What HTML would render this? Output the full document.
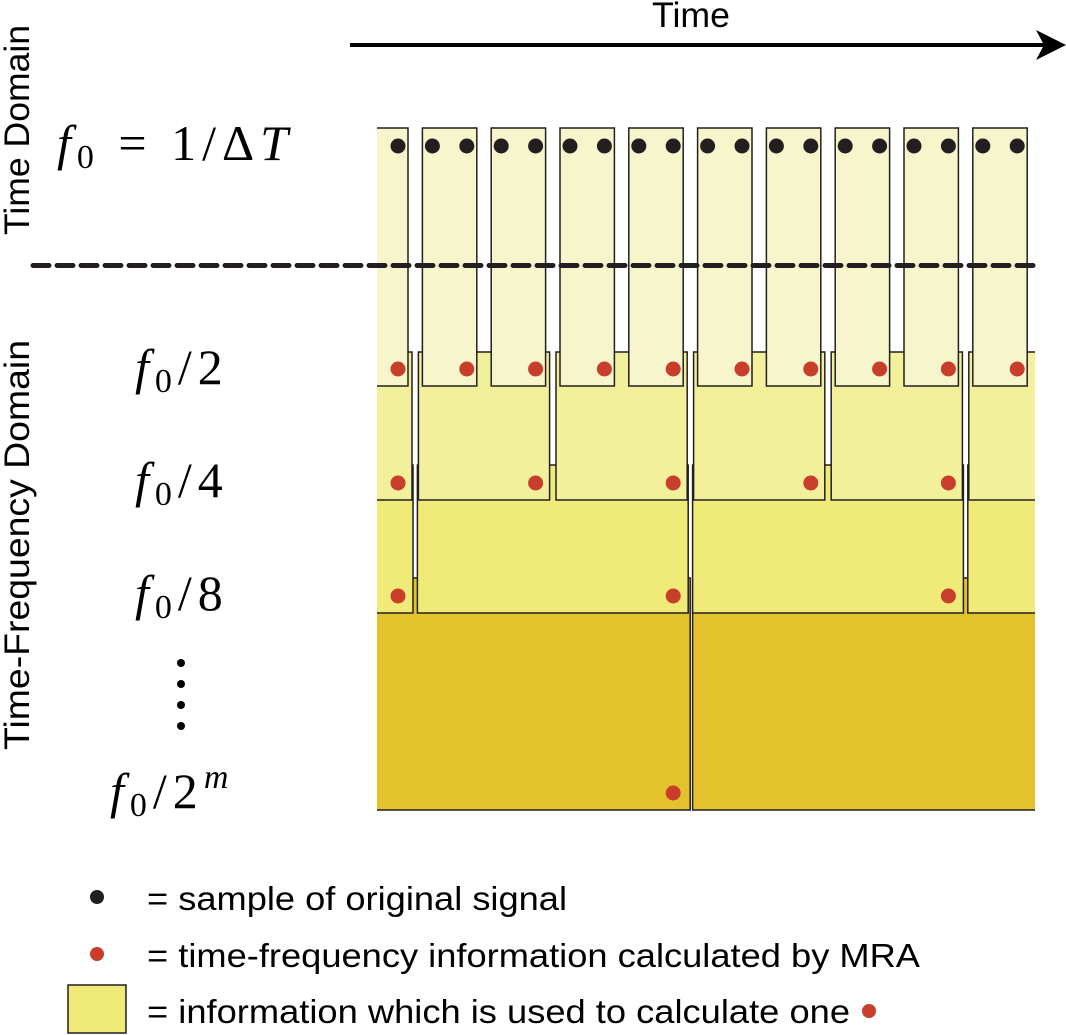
<!DOCTYPE html>
<html><head><meta charset="utf-8"><style>
html,body{margin:0;padding:0;background:#fff;}
svg{display:block;}
.lbl{font-family:"Liberation Sans",sans-serif;fill:#000;}
.math{font-family:"Liberation Serif",serif;fill:#000;letter-spacing:6px;}
</style></head><body>
<svg id="fig" width="1066" height="1035" viewBox="0 0 1066 1035" xmlns="http://www.w3.org/2000/svg">
<defs><clipPath id="clip"><rect x="377" y="0" width="658" height="1035"/></clipPath></defs>
<g id="boxes" clip-path="url(#clip)"></g>
<g id="dots"></g>
<line x1="33" y1="265.5" x2="1040" y2="265.5" stroke="#231f20" stroke-width="5" stroke-dasharray="16 8" stroke-linecap="round"/>
<line x1="350" y1="45" x2="1045" y2="45" stroke="#000" stroke-width="4"/>
<polygon points="1066,45 1036,30 1044,45 1036,60" fill="#000"/>
<text class="lbl" x="691" y="27" font-size="35" text-anchor="middle" textLength="78" lengthAdjust="spacingAndGlyphs">Time</text>
<text class="lbl" transform="translate(29,130) rotate(-90)" font-size="35" text-anchor="middle" textLength="210" lengthAdjust="spacingAndGlyphs">Time Domain</text>
<text class="lbl" transform="translate(29,545) rotate(-90)" font-size="35" text-anchor="middle" textLength="410" lengthAdjust="spacingAndGlyphs">Time-Frequency Domain</text>
<text class="math" x="57" y="160" font-size="50"><tspan font-style="italic">f</tspan><tspan font-size="34" dy="8">0</tspan><tspan dy="-8"> = 1/Δ</tspan><tspan font-style="italic">T</tspan></text>
<text class="math" x="135" y="384" font-size="50"><tspan font-style="italic">f</tspan><tspan font-size="34" dy="8">0</tspan><tspan dy="-8">/2</tspan></text>
<text class="math" x="135" y="497" font-size="50"><tspan font-style="italic">f</tspan><tspan font-size="34" dy="8">0</tspan><tspan dy="-8">/4</tspan></text>
<text class="math" x="135" y="610" font-size="50"><tspan font-style="italic">f</tspan><tspan font-size="34" dy="8">0</tspan><tspan dy="-8">/8</tspan></text>
<g fill="#000">
<circle cx="181" cy="663" r="4"/><circle cx="181" cy="684" r="4"/><circle cx="181" cy="705" r="4"/><circle cx="181" cy="726" r="4"/></g>
<text class="math" x="110" y="808" font-size="50"><tspan font-style="italic">f</tspan><tspan font-size="34" dy="8">0</tspan><tspan dy="-8">/2</tspan><tspan font-size="34" dy="-20" font-style="italic">m</tspan></text>
<circle cx="97" cy="897" r="7" fill="#231f20"/>
<text class="lbl" x="147" y="910" font-size="33" textLength="420" lengthAdjust="spacingAndGlyphs">= sample of original signal</text>
<circle cx="97" cy="954" r="7" fill="#c83e2a"/>
<text class="lbl" x="147" y="967" font-size="33" textLength="773" lengthAdjust="spacingAndGlyphs">= time-frequency information calculated by MRA</text>
<rect x="68" y="985" width="58" height="48" fill="#f0eb78" stroke="#231f20" stroke-width="1.5"/>
<text class="lbl" x="147" y="1023" font-size="33" textLength="703" lengthAdjust="spacingAndGlyphs">= information which is used to calculate one</text>
<circle cx="869" cy="1011" r="7" fill="#c83e2a"/>
</svg>
<script>
// diagram structure: sample count and level definitions
const sampleCount = 19;           // samples index 0..18
const levelNames = ["f0/2","f0/4","f0/8","f0/2^m"];
const levelTops = [128, 352, 465, 578];
const levelBottoms = [386, 500, 613, 810];
const levelColors = ["#f7f5cb","#f2f09a","#f0eb78","#e3c22e"];
const levelMargins = [10, 14, 15, 16];
const levelOffsets = [0, 0, 0, 8];
const redDotIdx = [[0,2,4,6,8,10,12,14,16,18],[0,4,8,12,16],[0,8,16],[8]];

const NS = "http://www.w3.org/2000/svg";
const sx = n => 398 + 34.4 * n;
const boxesG = document.getElementById('boxes');
const dotsG = document.getElementById('dots');

for (let k = 3; k >= 0; k--) {
  const size = Math.pow(2, k + 1);
  const m = levelMargins[k];
  for (let j = -2; j < 20; j++) {
    const last = j * size + levelOffsets[k], first = last - size + 1;
    if (first > sampleCount + 1 || last < -size) continue;
    const left = sx(first) - m, right = (k === 3 && j >= 0) ? sx(last) + m + 1 : sx(last) + m;
    const r = document.createElementNS(NS, 'rect');
    r.setAttribute('x', k === 3 && j > 0 ? left + 1 : left);
    r.setAttribute('y', levelTops[k]);
    r.setAttribute('width', right - left);
    r.setAttribute('height', levelBottoms[k] - levelTops[k]);
    r.setAttribute('fill', levelColors[k]);
    r.setAttribute('stroke', '#231f20');
    r.setAttribute('stroke-width', '1.5');
    
    
    boxesG.appendChild(r);
  }
}
for (let n = 0; n < sampleCount; n++) {
  const c = document.createElementNS(NS, 'circle');
  c.setAttribute('cx', sx(n)); c.setAttribute('cy', 146); c.setAttribute('r', 7.5);
  c.setAttribute('fill', '#231f20');
  
  
  dotsG.appendChild(c);
}
redDotIdx.forEach((arr, k) => arr.forEach(n => {
  const c = document.createElementNS(NS, 'circle');
  c.setAttribute('cx', sx(n)); c.setAttribute('cy', levelBottoms[k] - 17); c.setAttribute('r', 7.5);
  c.setAttribute('fill', '#c83e2a');
  
  
  dotsG.appendChild(c);
}));
</script>
</body></html>
